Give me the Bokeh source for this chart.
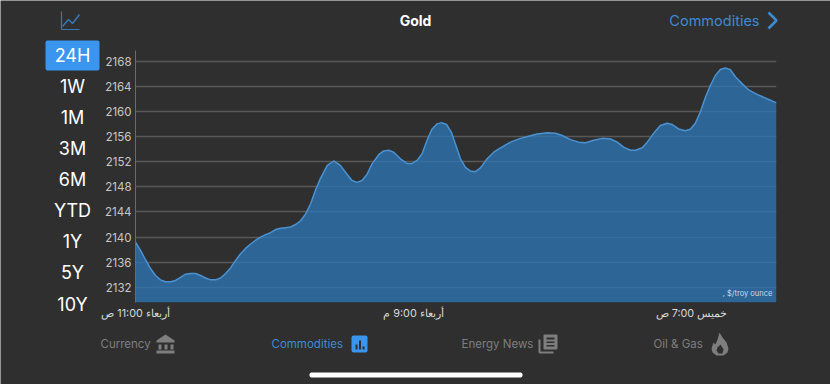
from bokeh.plotting import figure
from bokeh.models import Range1d, LinearAxis, FixedTicker, Column
from bokeh.core.properties import value
from bokeh.embed import file_html
from bokeh.resources import INLINE

# Data
hours = [0, .18, .36, .54, .72, .90, 1.08, 1.26, 1.44, 1.62, 1.80, 1.98, 2.16, 2.34, 2.52, 2.70, 2.88, 3.06, 3.24, 3.42,
         3.60, 3.78, 3.96, 4.14, 4.32, 4.50, 4.68, 4.86, 5.04, 5.22, 5.40, 5.58, 5.76, 5.94, 6.12, 6.30, 6.47, 6.65, 6.90, 7.13,
         7.37, 7.61, 7.79, 7.97, 8.15, 8.33, 8.51, 8.75, 8.93, 9.11, 9.29, 9.53, 9.75, 9.92, 10.13, 10.31, 10.49, 10.67, 10.85, 11.01,
         11.19, 11.36, 11.51, 11.69, 11.87, 12.05, 12.23, 12.41, 12.65, 12.89, 13.13, 13.49, 13.85, 14.21, 14.45, 14.81, 15.11, 15.35, 15.65, 15.95,
         16.19, 16.49, 16.79, 17.09, 17.33, 17.56, 17.81, 17.99, 18.23, 18.41, 18.64, 18.88, 19.13, 19.31, 19.54, 19.78, 19.96, 20.14, 20.32, 20.50,
         20.68, 20.86, 21.04, 21.22, 21.40, 21.58, 21.82, 22.06, 22.36, 22.72, 23.06]
prices = [2139.2, 2137.9, 2136.4, 2135.0, 2133.9, 2133.2, 2132.9, 2132.9, 2133.1, 2133.6, 2134.1, 2134.2, 2134.2, 2133.9, 2133.5, 2133.2, 2133.2, 2133.5, 2134.2, 2135.1,
          2136.3, 2137.35, 2138.2, 2138.9, 2139.5, 2140.0, 2140.4, 2140.7, 2141.2, 2141.4, 2141.5, 2141.6, 2142.0, 2142.6, 2143.7, 2145.3, 2147.4, 2149.3, 2151.4, 2152.1,
          2151.4, 2150.0, 2149.0, 2148.7, 2149.0, 2150.0, 2151.65, 2153.1, 2153.7, 2153.8, 2153.5, 2152.45, 2151.75, 2151.65, 2152.2, 2153.25, 2155.4, 2157.2, 2158.0, 2158.2,
          2157.9, 2156.7, 2154.8, 2152.45, 2151.1, 2150.5, 2150.4, 2151.0, 2152.45, 2153.5, 2154.2, 2155.1, 2155.7, 2156.1, 2156.4, 2156.6, 2156.5, 2156.15, 2155.5, 2155.1,
          2155.0, 2155.4, 2155.7, 2155.6, 2155.1, 2154.3, 2153.8, 2153.8, 2154.2, 2155.1, 2156.5, 2157.75, 2158.1, 2157.9, 2157.2, 2156.9, 2157.15, 2158.1, 2159.9, 2162.2,
          2164.1, 2165.7, 2166.65, 2166.9, 2166.6, 2165.5, 2164.4, 2163.4, 2162.7, 2162.0, 2161.35]
y_ticks = [2132, 2136, 2140, 2144, 2148, 2152, 2156, 2160, 2164, 2168]
x_ticks = [0, 10, 20]
x_tick_labels = {0: "أربعاء 11:00 ص", 10: "أربعاء 9:00 م", 20: "خميس 7:00 ص"}
periods = ["24H", "1W", "1M", "3M", "6M", "YTD", "1Y", "5Y", "10Y"]
Y_MIN, Y_MAX = 2129.6, 2169.67

BG = "#2f2f2f"
BLUE = "#3d8bd0"
BTN = "#3a95ee"
GRAY = "#7e7e7e"
FONT = "Inter"
W, H = 830, 384
F_L, F_R, F_T, F_B = 135, 776, 50, 302

# Screen furniture: a full-size figure behind the chart
bg = figure(width=W, height=H, output_backend="svg", toolbar_location=None,
            x_range=Range1d(0, W), y_range=Range1d(H, 0), frame_align=False,
            background_fill_color=BG, border_fill_color=BG, outline_line_color=None,
            x_axis_location=None, y_axis_location=None, min_border=0)
bg.grid.visible = False


def text(x, y, s, size, color="#ffffff", align="center", style="normal"):
    bg.text(x=[x], y=[y], text=[s], text_color=color, text_font=value(FONT), text_font_size=f"{size}px",
            text_font_style=style, text_align=align, text_baseline="middle")


def poly(pts, color):
    bg.patch(x=[a for a, _ in pts], y=[b for _, b in pts], fill_color=color, line_color=None)


def stroke(pts, color, width):
    bg.line(x=[a for a, _ in pts], y=[b for _, b in pts], line_color=color, line_width=width)


def box(x0, y0, x1, y1, color, radius=0):
    bg.quad(left=[x0], right=[x1], top=[y0], bottom=[y1], fill_color=color, line_color=None, border_radius=radius)


# Header
stroke([(61, 11), (61, 29), (79, 29)], "#3578b5", 1.2)
stroke([(62, 26), (68, 19), (72, 23), (79, 14)], "#3578b5", 1.5)
text(415, 20, "Gold", 14, style="bold")
text(759, 20, "Commodities", 14.5, BLUE, align="right")
stroke([(768, 12), (776, 20), (768, 28)], BLUE, 2.5)

# Period selector
box(45, 40, 99, 70, BTN, 2)
for label, yc in zip(periods, [55, 86, 117, 148, 179, 210, 241, 272, 304]):
    text(72, yc, label, 18)

# Bottom tabs
text(100, 343, "Currency", 11.5, GRAY, align="left")
text(271, 343, "Commodities", 11.5, BLUE, align="left")
text(461, 343, "Energy News", 11.5, GRAY, align="left")
text(653, 343, "Oil & Gas", 11.5, GRAY, align="left")

poly([(165, 334), (174, 340), (174, 342), (156, 342), (156, 340)], GRAY)
box(158, 344, 161, 349, GRAY)
box(164, 344, 167, 349, GRAY)
box(170, 344, 173, 349, GRAY)
box(156, 350, 174, 353, GRAY)

box(351, 335, 367, 352, BTN, 2)
box(355, 344, 357, 349, BG)
box(358.5, 340, 360.5, 349, BG)
box(362, 346, 364, 349, BG)

stroke([(539, 339), (539, 352), (553, 352)], GRAY, 2)
box(543, 334, 557, 349, GRAY, 1)
box(546, 337, 554, 339, BG)
box(546, 341, 554, 342.5, BG)
box(546, 344.5, 554, 346, BG)

poly([(719, 332), (722, 337), (726, 342), (728, 348), (727, 352), (723, 355), (716, 355), (712, 352),
      (711, 348), (713, 342), (715, 344), (717, 339)], GRAY)
poly([(720, 344), (723, 349), (722, 353), (718, 353), (716, 350), (717, 347)], BG)

# Home indicator
box(309, 372, 522, 377, "#ffffff", 2)

# The chart itself, transparent, laid over the furniture
p = figure(width=W, height=H, output_backend="svg", toolbar_location=None,
           x_range=Range1d(0, 23.06), y_range=Range1d(Y_MIN, Y_MAX), frame_align=False,
           background_fill_alpha=0, border_fill_alpha=0, outline_line_color=None,
           x_axis_location=None, y_axis_location=None,
           min_border_left=F_L, min_border_right=W - F_R, min_border_top=F_T, min_border_bottom=H - F_B,
           styles={"position": "absolute", "left": "0", "top": "0"})

yax = LinearAxis(ticker=FixedTicker(ticks=y_ticks), axis_line_color="#6a6a6a", axis_line_width=1,
                 major_tick_line_color=None, minor_tick_line_color=None, major_tick_out=0, minor_tick_out=0,
                 major_label_text_color="#c8c8c8", major_label_text_font=FONT, major_label_text_font_size="11.5px",
                 major_label_standoff=4)
xax = LinearAxis(ticker=FixedTicker(ticks=x_ticks), axis_line_color=None,
                 major_tick_line_color=None, minor_tick_line_color=None, major_tick_out=0, minor_tick_out=0,
                 major_label_overrides=x_tick_labels,
                 major_label_text_color="#d8d8d8", major_label_text_font=FONT, major_label_text_font_size="10.8px",
                 major_label_standoff=4)
p.add_layout(yax, "left")
p.add_layout(xax, "below")
p.xgrid.visible = False
p.ygrid.ticker = FixedTicker(ticks=y_ticks)
p.ygrid.grid_line_color = "#585858"
p.ygrid.grid_line_width = 1.5
p.ygrid.level = "underlay"

p.varea(x=hours, y1=[Y_MIN] * len(hours), y2=prices, fill_color="#2e75b5", fill_alpha=0.78)
p.line(x=hours, y=prices, line_color="#4a92d2", line_width=1.5)
p.text(x=[22.91], y=[2131.03], text=[", $/troy ounce"], text_color="#d0d8e0", text_font=value(FONT),
       text_font_size="7.5px", text_align="right", text_baseline="middle")

page = Column(children=[bg, p], width=W, height=H, styles={"position": "relative"})
open("out.html", "w").write(file_html(page, INLINE))
